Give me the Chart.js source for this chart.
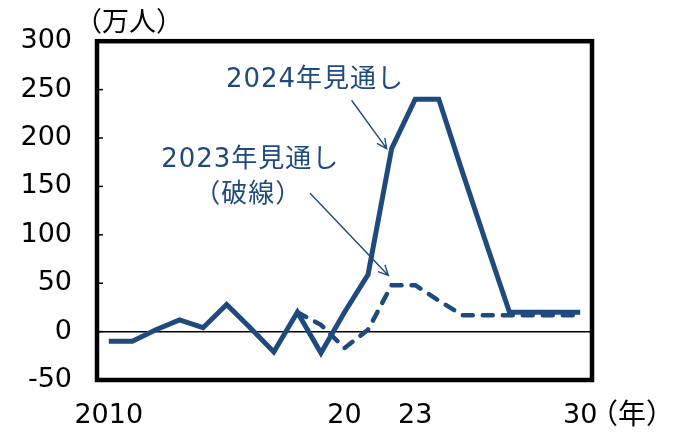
<!DOCTYPE html>
<html lang="ja">
<head>
<meta charset="utf-8">
<title>外国人労働者の見通し</title>
<script src="https://cdn.jsdelivr.net/npm/chart.js@4"></script>
<style>
  html, body { margin: 0; padding: 0; background: #fff; }
  #wrap { width: 677px; height: 432px; }
</style>
</head>
<body>
<div id="wrap"><canvas id="chart"></canvas></div>
<script>
// Years on the x axis (only a few are labelled)
const years = ['2010', '2011', '2012', '2013', '2014', '2015', '2016', '2017', '2018', '2019',
               '2020', '2021', '2022', '2023', '2024', '2025', '2026', '2027', '2028', '2029', '2030'];
const shownYears = { '2010': '2010', '2020': '20', '2023': '23', '2030': '30' };

// 2024 outlook (solid) and 2023 outlook (dashed), 万人
const outlook2024 = [-10, -10, 2, 12, 4, 28, 4, -21, 20, -22, 20, 59, 189, 240, 240, 165, 92, 20, 20, 20, 20];
const outlook2023 = [null, null, null, null, null, null, null, null, 20, 7, -17, 2, 48, 48, 32, 17, 17, 17, 17, 17, 17];

const BLUE = '#1f4a7d';
const TICK_FONT = { family: "'DejaVu Sans', 'Noto Sans CJK JP'", size: 27 };
const NOTE_FONT = "26px 'DejaVu Sans', 'Noto Sans CJK JP'";

// Text notes and arrows, anchored in data space (x = year index, y = 万人)
const notes = [
    { text: '2024年見通し', x: 8.75, y: 260 },
    { text: '2023年見通し', x: 6.0, y: 177 },
    { text: '（破線）', x: 5.92, y: 141 }
];
const arrows = [
    { from: [10.3, 239], to: [11.79, 189] },
    { from: [8.54, 143], to: [11.86, 58] }
];

function drawArrow(ctx, x1, y1, x2, y2) {
    const ang = Math.atan2(y2 - y1, x2 - x1);
    const head = 11;
    ctx.beginPath();
    ctx.moveTo(x1, y1);
    ctx.lineTo(x2, y2);
    ctx.moveTo(x2 - head * Math.cos(ang - 0.45), y2 - head * Math.sin(ang - 0.45));
    ctx.lineTo(x2, y2);
    ctx.lineTo(x2 - head * Math.cos(ang + 0.45), y2 - head * Math.sin(ang + 0.45));
    ctx.stroke();
}

// Frame, inner ticks, units and notes
const decorations = {
    id: 'decorations',
    afterDraw(chart) {
        const ctx = chart.ctx;
        const area = chart.chartArea;
        const xs = chart.scales.x;
        const ys = chart.scales.y;
        ctx.save();

        // small ticks inside the left edge
        ctx.strokeStyle = '#000';
        ctx.lineWidth = 1.5;
        ys.ticks.forEach(t => {
            const y = ys.getPixelForValue(t.value);
            ctx.beginPath();
            ctx.moveTo(area.left, y);
            ctx.lineTo(area.left + 6, y);
            ctx.stroke();
        });

        // heavy frame
        ctx.lineWidth = 4.5;
        ctx.strokeRect(area.left, area.top, area.right - area.left, area.bottom - area.top);

        // units
        ctx.fillStyle = '#000';
        ctx.textBaseline = 'middle';
        ctx.textAlign = 'left';
        ctx.font = "27px 'Noto Sans CJK JP'";
        ctx.fillText('（万人）', 75, 21);
        ctx.font = "28px 'Noto Sans CJK JP'";
        ctx.fillText('（年）', 590, 413);

        // notes
        ctx.fillStyle = BLUE;
        ctx.font = NOTE_FONT;
        ctx.letterSpacing = '1px';
        ctx.textAlign = 'center';
        notes.forEach(n => {
            ctx.fillText(n.text, xs.getPixelForValue(n.x), ys.getPixelForValue(n.y));
        });
        ctx.letterSpacing = '0px';

        ctx.strokeStyle = BLUE;
        ctx.lineWidth = 1.4;
        arrows.forEach(a => {
            drawArrow(ctx,
                xs.getPixelForValue(a.from[0]), ys.getPixelForValue(a.from[1]),
                xs.getPixelForValue(a.to[0]), ys.getPixelForValue(a.to[1]));
        });
        ctx.restore();
    }
};

new Chart(document.getElementById('chart'), {
    type: 'line',
    data: {
        labels: years,
        datasets: [
            {
                label: '2024年見通し',
                data: outlook2024,
                borderColor: BLUE,
                borderWidth: 5,
                pointRadius: 0,
                tension: 0,
                order: 1
            },
            {
                label: '2023年見通し（破線）',
                data: outlook2023,
                borderColor: BLUE,
                borderWidth: 4.5,
                borderDash: [10, 10],
                borderCapStyle: 'round',
                pointRadius: 0,
                tension: 0,
                spanGaps: false,
                order: 2
            }
        ]
    },
    options: {
        responsive: true,
        maintainAspectRatio: false,
        animation: false,
        layout: { padding: { left: 0, top: 41, right: 85, bottom: 0 } },
        plugins: {
            legend: { display: false },
            tooltip: { enabled: false }
        },
        scales: {
            x: {
                offset: true,
                border: { display: false },
                grid: { display: false, drawTicks: false },
                ticks: {
                    autoSkip: false,
                    maxRotation: 0,
                    padding: 20,
                    color: '#000',
                    font: TICK_FONT,
                    callback: function(value) {
                        return shownYears[years[value]] || '';
                    }
                },
                afterFit: scale => { scale.height = 52; }
            },
            y: {
                min: -50,
                max: 300,
                border: { display: false },
                grid: {
                    drawTicks: false,
                    lineWidth: 1.5,
                    color: ctx => (ctx.tick && ctx.tick.value === 0 ? '#000' : 'rgba(0,0,0,0)')
                },
                ticks: {
                    stepSize: 50,
                    padding: 25,
                    color: '#000',
                    font: TICK_FONT
                },
                afterFit: scale => { scale.width = 97; }
            }
        }
    },
    plugins: [decorations]
});
</script>
</body>
</html>
